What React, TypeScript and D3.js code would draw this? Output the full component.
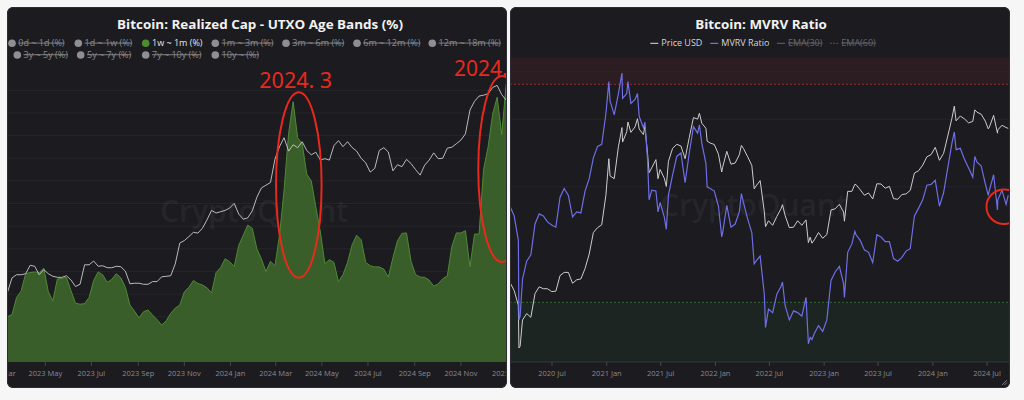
import React from "react";
import * as d3 from "d3";

const FONT = "'Open Sans', 'Noto Sans', 'DejaVu Sans', sans-serif";
const parseDay = d3.utcParse("%Y-%m-%d");
const P = (s: string) => parseDay(s) as Date;

// ---------------- LEFT CHART DATA ----------------
// 1w ~ 1m UTXO age band share of realized cap (%), sampled every 6 days from bandStart
const bandStart = "2023-03-12";
const bandStepDays = 6;
const band1w1mPct = [
  2.0, 2.1, 2.85, 3.13, 3.9, 3.95, 3.98, 3.95, 4.15, 3.1,
  2.7, 3.67, 3.69, 3.74, 3.15, 2.6, 2.55, 2.58, 2.85, 3.6,
  3.98, 3.85, 3.52, 3.65, 3.9, 3.72, 3.3, 2.52, 2.25, 1.95,
  2.22, 2.3, 2.07, 1.87, 1.63, 1.82, 2.15, 2.38, 2.52, 3.1,
  3.3, 3.6, 3.47, 3.4, 3.28, 3.05, 3.95, 4.17, 4.56, 4.43,
  4.22, 5.15, 5.6, 6.05, 5.9, 5.0, 4.55, 4.0, 4.45, 4.25,
  5.6, 7.6, 10.1, 11.5, 9.9, 9.65, 8.3, 8.0, 6.85, 5.75,
  4.35, 4.52, 4.4, 3.55, 3.86, 4.4, 5.17, 5.6, 5.4, 4.4,
  4.25, 4.2, 4.2, 4.1, 3.75, 4.6, 5.35, 5.68, 5.7, 4.45,
  3.86, 3.75, 3.74, 3.62, 3.35, 3.45, 3.68, 3.8, 5.1, 5.7,
  5.7, 5.8, 4.2, 5.65, 5.65, 8.5, 9.5, 10.95, 11.7, 10.05,
  12.3,
];
// BTC price (thousand USD) on the same dates
const btcPriceLeftK = [
  24.6, 27.2, 27.8, 27.8, 28.0, 29.7, 29.5, 27.8, 28.8, 28.0,
  27.5, 27.3, 27.3, 27.6, 26.8, 25.6, 26.0, 29.8, 29.8, 30.6,
  29.5, 29.6, 29.2, 29.2, 29.5, 29.4, 28.5, 26.1, 26.2, 26.2,
  26.0, 26.0, 26.5, 26.5, 27.4, 27.5, 27.6, 30.0, 34.7, 35.3,
  36.3, 37.4, 37.2, 38.5, 40.8, 43.6, 42.8, 43.2, 43.6, 44.3,
  45.8, 42.5, 41.0, 41.4, 43.5, 47.8, 51.0, 52.0, 53.0, 62.5,
  68.1, 72.5, 66.0, 69.0, 67.6, 70.5, 66.3, 64.3, 65.5, 62.0,
  62.6, 62.0, 68.6, 71.0, 68.1, 70.5, 67.7, 66.0, 62.8, 60.8,
  57.0, 58.5, 66.3, 67.6, 65.6, 57.5, 60.0, 59.2, 62.3, 60.5,
  58.0, 55.8, 59.8, 62.0, 65.2, 62.6, 62.8, 67.4, 67.8, 69.5,
  71.3, 74.5, 88.0, 93.5, 97.0, 97.6, 98.6, 103.0, 104.5, 98.0,
  94.2,
];
const leftLegendLabels = [
  "0d ~ 1d (%)", "1d ~ 1w (%)", "1w ~ 1m (%)", "1m ~ 3m (%)", "3m ~ 6m (%)", "6m ~ 12m (%)",
  "12m ~ 18m (%)", "3y ~ 5y (%)", "5y ~ 7y (%)", "7y ~ 10y (%)", "10y ~ (%)",
];
const leftLegendActive = "1w ~ 1m (%)";

// ---------------- RIGHT CHART DATA ----------------
// BTC price (thousand USD)
const priceSeries: [string, number][] = [
  ["2020-02-11", 10.2], ["2020-02-25", 9.3], ["2020-03-10", 7.9], ["2020-03-12", 4.9], ["2020-03-16", 5.0],
  ["2020-03-24", 6.7], ["2020-04-07", 7.2], ["2020-04-21", 6.9], ["2020-05-05", 9.0], ["2020-05-19", 9.7],
  ["2020-06-02", 9.5], ["2020-06-16", 9.5], ["2020-06-30", 9.2], ["2020-07-14", 9.25], ["2020-07-28", 11.0],
  ["2020-08-11", 11.4], ["2020-08-25", 11.4], ["2020-09-08", 10.1], ["2020-09-22", 10.5], ["2020-10-06", 10.6],
  ["2020-10-20", 11.9], ["2020-11-03", 14.0], ["2020-11-17", 17.8], ["2020-12-01", 18.8], ["2020-12-15", 19.4],
  ["2020-12-29", 27.0], ["2021-01-08", 40.6], ["2021-01-12", 33.5], ["2021-01-26", 32.5], ["2021-02-09", 46.4],
  ["2021-02-21", 57.5], ["2021-02-23", 48.9], ["2021-03-09", 54.9], ["2021-03-13", 61.2], ["2021-03-23", 54.5],
  ["2021-04-06", 58.0], ["2021-04-14", 63.5], ["2021-04-20", 56.5], ["2021-05-04", 53.2], ["2021-05-09", 58.3],
  ["2021-05-18", 42.9], ["2021-05-23", 34.7], ["2021-06-01", 36.7], ["2021-06-15", 40.2], ["2021-06-22", 32.5],
  ["2021-06-29", 36.0], ["2021-07-13", 32.7], ["2021-07-20", 29.8], ["2021-07-27", 39.4], ["2021-08-10", 45.6],
  ["2021-08-24", 47.7], ["2021-09-07", 46.8], ["2021-09-21", 40.6], ["2021-10-05", 51.5], ["2021-10-19", 64.3],
  ["2021-11-02", 63.2], ["2021-11-08", 67.5], ["2021-11-16", 60.4], ["2021-11-30", 57.0], ["2021-12-04", 49.4],
  ["2021-12-14", 48.4], ["2021-12-28", 47.6], ["2022-01-11", 42.7], ["2022-01-22", 35.0], ["2022-01-25", 36.9],
  ["2022-02-08", 44.1], ["2022-02-22", 38.2], ["2022-03-08", 38.7], ["2022-03-22", 42.4], ["2022-03-29", 47.1],
  ["2022-04-05", 45.5], ["2022-04-19", 41.5], ["2022-05-03", 37.7], ["2022-05-11", 29.0], ["2022-05-17", 29.9],
  ["2022-05-31", 31.8], ["2022-06-14", 22.5], ["2022-06-18", 19.0], ["2022-06-28", 20.3], ["2022-07-12", 19.3],
  ["2022-07-26", 21.3], ["2022-08-09", 23.2], ["2022-08-14", 24.3], ["2022-08-23", 21.5], ["2022-09-06", 18.8],
  ["2022-09-20", 18.9], ["2022-10-04", 20.3], ["2022-10-18", 19.3], ["2022-11-01", 20.5], ["2022-11-09", 15.9],
  ["2022-11-15", 16.9], ["2022-11-21", 15.8], ["2022-11-29", 16.4], ["2022-12-13", 17.8], ["2022-12-27", 16.7],
  ["2023-01-10", 17.4], ["2023-01-24", 22.9], ["2023-02-07", 23.2], ["2023-02-21", 24.4], ["2023-03-07", 22.4],
  ["2023-03-10", 20.2], ["2023-03-21", 28.2], ["2023-04-04", 28.2], ["2023-04-14", 30.5], ["2023-04-18", 30.4],
  ["2023-05-02", 28.7], ["2023-05-16", 27.0], ["2023-05-30", 27.7], ["2023-06-13", 25.9], ["2023-06-27", 30.7],
  ["2023-07-11", 30.6], ["2023-07-25", 29.2], ["2023-08-08", 29.8], ["2023-08-22", 26.0], ["2023-09-05", 25.8],
  ["2023-09-19", 27.2], ["2023-10-03", 27.4], ["2023-10-17", 28.5], ["2023-10-31", 34.6], ["2023-11-14", 35.5],
  ["2023-11-28", 37.8], ["2023-12-12", 41.5], ["2023-12-26", 42.5], ["2024-01-09", 46.1], ["2024-01-23", 39.9],
  ["2024-02-06", 43.1], ["2024-02-20", 52.3], ["2024-03-05", 63.8], ["2024-03-13", 73.1], ["2024-03-19", 62.0],
  ["2024-04-02", 65.4], ["2024-04-16", 63.4], ["2024-04-30", 60.6], ["2024-05-14", 61.6], ["2024-05-21", 70.1],
  ["2024-05-28", 68.3], ["2024-06-11", 66.8], ["2024-06-25", 61.8], ["2024-07-05", 56.7], ["2024-07-09", 57.9],
  ["2024-07-23", 65.9], ["2024-08-05", 54.0], ["2024-08-06", 56.0], ["2024-08-20", 59.0], ["2024-09-03", 57.5],
  ["2024-09-10", 57.0],
];
// MVRV ratio
const mvrvSeries: [string, number][] = [
  ["2020-02-11", 1.78], ["2020-02-25", 1.68], ["2020-03-10", 1.45], ["2020-03-12", 0.9], ["2020-03-16", 0.92],
  ["2020-03-24", 1.15], ["2020-04-07", 1.28], ["2020-04-21", 1.33], ["2020-05-05", 1.6], ["2020-05-19", 1.7],
  ["2020-06-02", 1.68], ["2020-06-16", 1.62], ["2020-06-30", 1.59], ["2020-07-14", 1.57], ["2020-07-28", 1.88],
  ["2020-08-11", 1.98], ["2020-08-25", 1.9], ["2020-09-08", 1.67], ["2020-09-22", 1.72], ["2020-10-06", 1.71],
  ["2020-10-20", 1.95], ["2020-11-03", 2.1], ["2020-11-17", 2.38], ["2020-12-01", 2.55], ["2020-12-15", 2.58],
  ["2020-12-29", 3.1], ["2021-01-08", 3.76], ["2021-01-12", 3.35], ["2021-01-26", 3.08], ["2021-02-09", 3.5],
  ["2021-02-21", 3.96], ["2021-02-23", 3.4], ["2021-03-09", 3.5], ["2021-03-13", 3.76], ["2021-03-23", 3.3],
  ["2021-04-06", 3.38], ["2021-04-14", 3.5], ["2021-04-20", 3.05], ["2021-05-04", 2.85], ["2021-05-09", 2.95],
  ["2021-05-18", 2.35], ["2021-05-23", 1.85], ["2021-06-01", 1.96], ["2021-06-15", 1.95], ["2021-06-22", 1.72],
  ["2021-06-29", 1.82], ["2021-07-13", 1.67], ["2021-07-20", 1.55], ["2021-07-27", 1.9], ["2021-08-10", 2.15],
  ["2021-08-24", 2.4], ["2021-09-07", 2.45], ["2021-09-21", 2.05], ["2021-10-05", 2.45], ["2021-10-19", 2.87],
  ["2021-11-02", 2.76], ["2021-11-08", 2.9], ["2021-11-16", 2.6], ["2021-11-30", 2.3], ["2021-12-04", 2.0],
  ["2021-12-14", 1.98], ["2021-12-28", 1.95], ["2022-01-11", 1.78], ["2022-01-22", 1.48], ["2022-01-25", 1.52],
  ["2022-02-08", 1.79], ["2022-02-22", 1.57], ["2022-03-08", 1.6], ["2022-03-22", 1.72], ["2022-03-29", 1.92],
  ["2022-04-05", 1.82], ["2022-04-19", 1.65], ["2022-05-03", 1.52], ["2022-05-11", 1.26], ["2022-05-17", 1.28],
  ["2022-05-31", 1.32], ["2022-06-14", 1.05], ["2022-06-18", 0.86], ["2022-06-28", 0.96], ["2022-07-12", 0.94],
  ["2022-07-26", 1.05], ["2022-08-09", 1.1], ["2022-08-14", 1.13], ["2022-08-23", 0.98], ["2022-09-06", 0.9],
  ["2022-09-20", 0.95], ["2022-10-04", 0.94], ["2022-10-18", 0.92], ["2022-11-01", 1.03], ["2022-11-09", 0.78],
  ["2022-11-15", 0.81], ["2022-11-21", 0.8], ["2022-11-29", 0.83], ["2022-12-13", 0.87], ["2022-12-27", 0.84],
  ["2023-01-10", 0.9], ["2023-01-24", 1.14], ["2023-02-07", 1.2], ["2023-02-21", 1.24], ["2023-03-07", 1.12],
  ["2023-03-10", 1.03], ["2023-03-21", 1.35], ["2023-04-04", 1.42], ["2023-04-14", 1.53], ["2023-04-18", 1.5],
  ["2023-05-02", 1.45], ["2023-05-16", 1.37], ["2023-05-30", 1.35], ["2023-06-13", 1.27], ["2023-06-27", 1.5],
  ["2023-07-11", 1.48], ["2023-07-25", 1.44], ["2023-08-08", 1.44], ["2023-08-22", 1.3], ["2023-09-05", 1.28],
  ["2023-09-19", 1.31], ["2023-10-03", 1.36], ["2023-10-17", 1.38], ["2023-10-31", 1.68], ["2023-11-14", 1.76],
  ["2023-11-28", 1.85], ["2023-12-12", 2.02], ["2023-12-26", 2.03], ["2024-01-09", 2.08], ["2024-01-23", 1.78],
  ["2024-02-06", 1.93], ["2024-02-20", 2.24], ["2024-03-05", 2.6], ["2024-03-13", 2.78], ["2024-03-19", 2.5],
  ["2024-04-02", 2.52], ["2024-04-16", 2.36], ["2024-04-30", 2.24], ["2024-05-14", 2.12], ["2024-05-21", 2.4],
  ["2024-05-28", 2.32], ["2024-06-11", 2.27], ["2024-06-25", 2.04], ["2024-07-05", 1.9], ["2024-07-09", 1.96],
  ["2024-07-23", 2.15], ["2024-08-05", 1.74], ["2024-08-06", 1.85], ["2024-08-20", 1.96], ["2024-09-03", 1.8],
  ["2024-09-10", 1.9],
];
const mvrvHighZone = 3.7;
const mvrvLowZone = 1.0;
const mvrvGridValues = [2, 3, 4];
const rightLegendLabels = ["Price USD", "MVRV Ratio", "EMA(30)", "EMA(60)"];

// ---------------- COLORS ----------------
const PAGE_BG = "#f6f6f6";
const PANEL_BG = "#1b1b20";
const GRID = "#25252b";
const GREEN_FILL = "#3a5e29";
const GREEN_LINE = "#4f8a35";
const PRICE_COL = "#cdcdcd";
const MVRV_COL = "#6e6ee6";
const AXIS_TXT = "#8a8a8e";
const RED = "#e8291c";

export default function App() {
  // ---- left scales ----
  const lx = d3.scaleUtc().domain([P("2023-03-12"), P("2025-01-01")]).range([7.5, 507]);
  const ly = d3.scaleLinear().domain([0, 12.5]).range([362, 79]);
  const lp = d3.scaleLog().domain([15.1, 109.3]).range([362, 79]);
  const bandDates = band1w1mPct.map((_, i) => d3.utcDay.offset(P(bandStart), i * bandStepDays));
  const areaPath =
    d3.area<number>().x((_, i) => lx(bandDates[i])).y0(ly(0)).y1((d) => ly(d))(band1w1mPct) || "";
  const bandTopPath = d3.line<number>().x((_, i) => lx(bandDates[i])).y((d) => ly(d))(band1w1mPct) || "";
  const leftPricePath = d3.line<number>().x((_, i) => lx(bandDates[i])).y((d) => lp(d))(btcPriceLeftK) || "";
  const leftTicks = d3.utcMonth.every(2)!.range(P("2023-03-01"), P("2025-01-02"));
  const fmt = d3.utcFormat("%Y %b");
  const leftGrid = ly.ticks(12).filter((v) => v > 0);

  // ---- right scales ----
  const rx = d3.scaleUtc().domain([P("2020-02-11"), P("2024-09-16")]).range([510, 1010]);
  const rm = d3.scaleLog().domain([0.699, 4.333]).range([362, 58]);
  const rp = d3.scaleLog().domain([4.19, 125.1]).range([362, 58]);
  const rPricePath = d3.line<[string, number]>().x((d) => rx(P(d[0]))).y((d) => rp(d[1]))(priceSeries) || "";
  const mvrvPath = d3.line<[string, number]>().x((d) => rx(P(d[0]))).y((d) => rm(d[1]))(mvrvSeries) || "";
  const rightTicks = d3.utcMonth.every(6)!.range(P("2020-02-01"), P("2024-09-30"));
  const [rx0, rx1] = rx.range();
  const [my0, my1] = rm.range();

  // ---- legend layout (pixel positions of the legend items) ----
  const leftLegendPos = [
    [12, 43.3], [78.3, 43.3], [145.7, 43.3], [215.3, 43.3], [286, 43.3], [357, 43.3], [432.3, 43.3],
    [17.3, 55], [80.7, 55], [145.7, 55], [215.3, 55],
  ];
  const rightLegendPos = [650.3, 710.3, 777, 830.3];

  return (
    <div style={{ position: "absolute", left: 0, top: 0 }}>
      <svg width={1024} height={400} style={{ display: "block" }} fontFamily={FONT}>
        <defs>
          <clipPath id="lpanel">
            <rect x={7} y={7} width={500} height={381} rx={6} />
          </clipPath>
          <clipPath id="rpanel">
            <rect x={510} y={7} width={500} height={381} rx={6} />
          </clipPath>
        </defs>
        <rect x={0} y={0} width={1024} height={400} fill={PAGE_BG} />

        {/* ================= LEFT PANEL ================= */}
        <g clipPath="url(#lpanel)">
          <rect x={7} y={7} width={500} height={381} fill={PANEL_BG} />
          <text x={260} y={28.5} textAnchor="middle" fill="#f2f2f2" fontSize={13} fontWeight={700}
            textLength={286} lengthAdjust="spacingAndGlyphs">
            Bitcoin: Realized Cap - UTXO Age Bands (%)
          </text>
          {leftLegendLabels.map((lab, i) => {
            const [cx, cy] = leftLegendPos[i];
            const active = lab === leftLegendActive;
            return (
              <g key={lab}>
                <circle cx={cx} cy={cy} r={3.8} fill={active ? "#4b8c2c" : "#8e8e93"} />
                <text x={cx + 6.3} y={cy + 3.1} fontSize={9} fill={active ? "#e6e6e6" : "#8a8a8e"}
                  style={{ textDecoration: active ? "none" : "line-through" }}>
                  {lab}
                </text>
              </g>
            );
          })}
          {leftGrid.map((v) => (
            <line key={v} x1={7} x2={507} y1={ly(v)} y2={ly(v)} stroke={GRID} strokeWidth={1} />
          ))}
          <text x={254} y={222} textAnchor="middle" fontSize={30} fontWeight={600} fill="#ffffff" opacity={0.045}>
            CryptoQuant
          </text>
          <path d={areaPath} fill={GREEN_FILL} />
          <path d={bandTopPath} fill="none" stroke={GREEN_LINE} strokeWidth={1} />
          <path d={leftPricePath} fill="none" stroke={PRICE_COL} strokeWidth={0.9} />
          {leftTicks.map((t) => (
            <g key={+t}>
              <line x1={lx(t)} x2={lx(t)} y1={362} y2={366} stroke="#45454b" />
              <text x={lx(t)} y={376} textAnchor="middle" fontSize={7.5} fill={AXIS_TXT}>
                {fmt(t)}
              </text>
            </g>
          ))}
          {/* hand-drawn red annotations */}
          <ellipse cx={298.8} cy={185} rx={22.8} ry={92.7} fill="none" stroke={RED} strokeWidth={2} />
          <text x={259.3} y={87.5} fontSize={21.5} fill={RED} fontFamily="'Noto Sans', sans-serif">2024. 3</text>
          <ellipse cx={502} cy={169} rx={23.7} ry={93} fill="none" stroke={RED} strokeWidth={2} />
          <text x={454} y={76} fontSize={21} fill={RED} fontFamily="'Noto Sans', sans-serif">2024.</text>
        </g>
        <rect x={7.5} y={7.5} width={499} height={380} rx={6} fill="none" stroke="#2c2c32" />

        {/* ================= RIGHT PANEL ================= */}
        <g clipPath="url(#rpanel)">
          <rect x={510} y={7} width={500} height={381} fill={PANEL_BG} />
          <text x={761} y={28.5} textAnchor="middle" fill="#f2f2f2" fontSize={13} fontWeight={700}
            textLength={131.7} lengthAdjust="spacingAndGlyphs">
            Bitcoin: MVRV Ratio
          </text>
          {rightLegendLabels.map((lab, i) => {
            const x = rightLegendPos[i];
            const enabled = i < 2;
            const col = i === 0 ? "#b9b9bd" : i === 1 ? MVRV_COL : "#56565c";
            return (
              <g key={lab}>
                <line x1={x} x2={x + 8} y1={43.3} y2={43.3} stroke={col} strokeWidth={1.3}
                  strokeDasharray={i === 3 ? "1.5,1.5" : undefined} />
                <text x={x + 11} y={46.4} fontSize={9} fill={enabled ? "#d6d6d8" : "#66666c"}
                  style={{ textDecoration: enabled ? "none" : "line-through" }}>
                  {lab}
                </text>
              </g>
            );
          })}
          {/* zones */}
          <rect x={rx0} y={my1} width={rx1 - rx0} height={rm(mvrvHighZone) - my1} fill="#2b1d21" />
          <rect x={rx0} y={rm(mvrvLowZone)} width={rx1 - rx0} height={my0 - rm(mvrvLowZone)} fill="#1d2523" />
          {mvrvGridValues.map((v) => (
            <line key={v} x1={rx0} x2={rx1} y1={rm(v)} y2={rm(v)} stroke={GRID} />
          ))}
          <line x1={rx0} x2={rx1} y1={rm(mvrvHighZone)} y2={rm(mvrvHighZone)} stroke="#8e2c2c" strokeDasharray="2,2" />
          <line x1={rx0} x2={rx1} y1={rm(mvrvLowZone)} y2={rm(mvrvLowZone)} stroke="#2f6a2c" strokeDasharray="2,2" />
          <text x={754} y={216} textAnchor="middle" fontSize={30} fontWeight={600} fill="#ffffff" opacity={0.045}>
            CryptoQuant
          </text>
          <path d={rPricePath} fill="none" stroke={PRICE_COL} strokeWidth={1} />
          <path d={mvrvPath} fill="none" stroke={MVRV_COL} strokeWidth={1.2} />
          <line x1={rx0} x2={rx1} y1={362} y2={362} stroke="#34373b" />
          {rightTicks.map((t) => (
            <g key={+t}>
              <line x1={rx(t)} x2={rx(t)} y1={362} y2={366} stroke="#45454b" />
              <text x={rx(t)} y={376} textAnchor="middle" fontSize={7.5} fill={AXIS_TXT}>
                {fmt(t)}
              </text>
            </g>
          ))}
          <ellipse cx={1004} cy={206.7} rx={17.5} ry={17.3} fill="none" stroke={RED} strokeWidth={2} />
          {/* resize handle */}
          <line x1={1002} y1={385} x2={1007} y2={380} stroke="#77777c" strokeWidth={1} />
          <line x1={1004.5} y1={385} x2={1007} y2={382.5} stroke="#77777c" strokeWidth={1} />
        </g>
        <rect x={510.5} y={7.5} width={499} height={380} rx={6} fill="none" stroke="#2c2c32" />
      </svg>
    </div>
  );
}
